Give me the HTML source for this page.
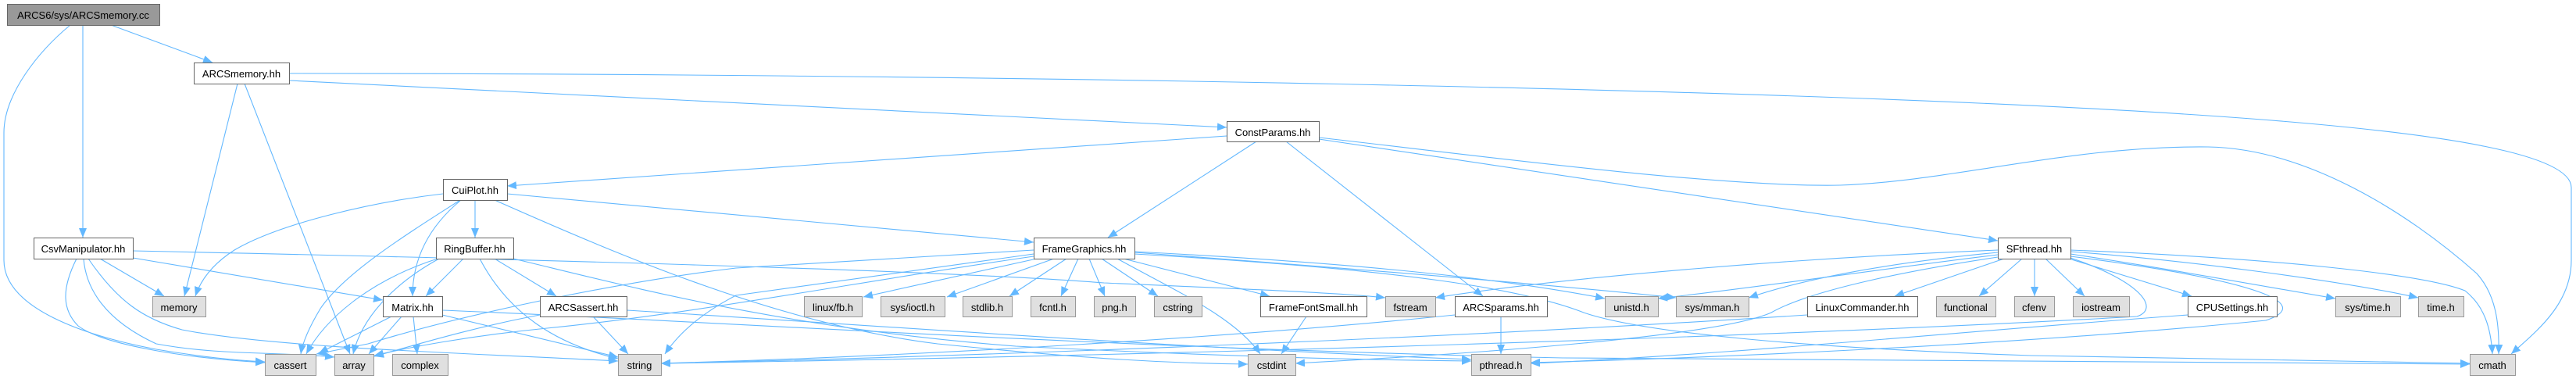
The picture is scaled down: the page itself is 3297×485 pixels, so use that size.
<!DOCTYPE html>
<html><head><meta charset="utf-8"><style>
html,body{margin:0;padding:0;background:#fff;}
svg{display:block;}
text{font-family:"Liberation Sans",Arial,sans-serif;font-size:13px;fill:#000;text-anchor:middle;}
.e{fill:none;stroke:#63b8ff;stroke-width:1.1;marker-end:url(#ah);}
.w{fill:#fff;stroke:#666;stroke-width:1;}
.g{fill:#e0e0e0;stroke:#999;stroke-width:1;}
.r{fill:#999;stroke:#666;stroke-width:1;}
</style></head><body>
<svg width="3297" height="485" viewBox="0 0 3297 485" xmlns="http://www.w3.org/2000/svg">
<defs><marker id="ah" markerUnits="userSpaceOnUse" viewBox="0 0 12 10" refX="12" refY="5" markerWidth="12" markerHeight="10" orient="auto"><path d="M0,0 L12,5 L0,10 z" fill="#63b8ff"/></marker></defs>
<rect width="3297" height="485" fill="#fff"/>
<g>
<path class="e" d="M142,32 L272,80"/>
<path class="e" d="M106,32 L106,304"/>
<path class="e" d="M90,32 C50,65 5,120 5,170 L5,333 C5,395 110,430 200,447 C260,457 300,461 339,463"/>
<path class="e" d="M370,103 L1570,163"/>
<path class="e" d="M370,94 C1200,94 2300,112 2826,148 C3150,170 3291,200 3291,240 L3291,333 C3291,390 3245,425 3214,453"/>
<path class="e" d="M304,107 L236,379"/>
<path class="e" d="M313,107 L448,453"/>
<path class="e" d="M1570,174 L649,238"/>
<path class="e" d="M1608,181 L1418,304"/>
<path class="e" d="M1646,181 L1898,379"/>
<path class="e" d="M1688,178 L2557,308"/>
<path class="e" d="M1688,176 C1900,200 2200,240 2355,237 C2500,232 2650,186 2826,188 C2950,190 3080,270 3170,350 C3195,378 3199,415 3198,453"/>
<path class="e" d="M567,248 C480,258 360,285 300,320 C275,336 258,355 250,379"/>
<path class="e" d="M589,256 C520,300 440,350 410,395 C395,420 387,440 385,453"/>
<path class="e" d="M590,256 C555,285 528,325 528,379"/>
<path class="e" d="M608,256 L608,304"/>
<path class="e" d="M649,248 L1323,310"/>
<path class="e" d="M633,256 C800,330 1000,415 1200,440 C1400,460 1500,465 1597,466"/>
<path class="e" d="M560,331 C470,360 415,410 392,453"/>
<path class="e" d="M562,331 C500,365 462,410 452,453"/>
<path class="e" d="M593,331 L545,379"/>
<path class="e" d="M614,331 C650,400 710,440 791,459"/>
<path class="e" d="M633,331 L712,379"/>
<path class="e" d="M657,331 C800,365 1000,420 1300,443 C1600,458 1780,461 1883,462"/>
<path class="e" d="M501,405 L408,452"/>
<path class="e" d="M514,405 L472,453"/>
<path class="e" d="M529,405 L534,453"/>
<path class="e" d="M566,403 L791,457"/>
<path class="e" d="M566,397 C900,410 1400,445 2000,458 C2500,465 2900,466 3161,466"/>
<path class="e" d="M759,405 L804,453"/>
<path class="e" d="M691,403 C600,420 520,445 479,456"/>
<path class="e" d="M802,397 C1100,415 1500,445 1883,460"/>
<path class="e" d="M1327,331 L1105,380"/>
<path class="e" d="M1349,331 L1212,380"/>
<path class="e" d="M1365,331 L1292,379"/>
<path class="e" d="M1380,331 L1358,379"/>
<path class="e" d="M1394,331 L1414,379"/>
<path class="e" d="M1410,331 L1482,379"/>
<path class="e" d="M1438,331 L1625,379"/>
<path class="e" d="M1430,331 C1500,370 1580,405 1613,453"/>
<path class="e" d="M1452,322 C1700,335 1900,352 2054,382"/>
<path class="e" d="M1452,323 C1750,345 2000,366 2145,381"/>
<path class="e" d="M1452,325 C1800,345 1950,370 2027,400 C2100,425 2300,445 2600,455 C2900,462 3050,464 3161,465"/>
<path class="e" d="M1323,325 L942,378 Q880,410 851,453"/>
<path class="e" d="M1323,320 L942,343 C800,360 600,400 471,440 L405,453"/>
<path class="e" d="M1323,328 C1100,360 900,400 700,420 C600,430 520,445 479,455"/>
<path class="e" d="M2565,331 L2425,379"/>
<path class="e" d="M2588,331 L2533,379"/>
<path class="e" d="M2604,331 L2604,379"/>
<path class="e" d="M2618,331 L2668,379"/>
<path class="e" d="M2648,331 L2805,379"/>
<path class="e" d="M2650,325 C2750,340 2850,358 2989,382"/>
<path class="e" d="M2650,322 C2800,333 3000,360 3095,381"/>
<path class="e" d="M2650,320 C2900,330 3100,350 3155,372 C3180,392 3188,420 3190,453"/>
<path class="e" d="M2557,320 C2300,330 2000,355 1837,381"/>
<path class="e" d="M2557,323 C2400,338 2300,360 2238,381"/>
<path class="e" d="M2557,326 C2400,345 2250,368 2122,382"/>
<path class="e" d="M2557,329 C2450,345 2320,370 2267,400 C2200,430 1900,452 1658,465"/>
<path class="e" d="M2650,330 C2740,360 2765,395 2735,405 C2300,430 1500,455 846,465"/>
<path class="e" d="M2313,403 C1900,430 1300,455 846,465"/>
<path class="e" d="M1862,403 C1600,430 1200,455 846,465"/>
<path class="e" d="M1921,405 L1921,453"/>
<path class="e" d="M2800,403 C2500,425 2200,455 1959,465"/>
<path class="e" d="M2650,328 C2900,360 2960,390 2900,410 C2600,440 2200,458 1959,464"/>
<path class="e" d="M170,321 C600,330 1200,345 1413,362 C1600,370 1720,375 1773,381"/>
<path class="e" d="M170,330 L490,384"/>
<path class="e" d="M128,331 L210,379"/>
<path class="e" d="M98,331 C80,367 78,395 100,417 C130,440 230,458 339,464"/>
<path class="e" d="M107,331 C110,370 135,410 200,440 C280,455 360,450 428,457"/>
<path class="e" d="M113,331 C150,385 183,408 233,422 C350,445 600,452 791,462"/>
<path class="e" d="M1672,405 L1640,453"/>
</g>
<g>
<rect class="r" x="9.5" y="5.5" width="195" height="27"/><text x="106.5" y="24">ARCS6/sys/ARCSmemory.cc</text>
<rect class="w" x="248.5" y="80.5" width="122" height="27"/><text x="309" y="99">ARCSmemory.hh</text>
<rect class="w" x="1570.5" y="155.5" width="118" height="26"/><text x="1629" y="174">ConstParams.hh</text>
<rect class="w" x="567.5" y="229.5" width="82" height="27"/><text x="608" y="248">CuiPlot.hh</text>
<rect class="w" x="43.5" y="304.5" width="127" height="27"/><text x="106.5" y="323">CsvManipulator.hh</text>
<rect class="w" x="558.5" y="304.5" width="99" height="27"/><text x="607.5" y="323">RingBuffer.hh</text>
<rect class="w" x="1323.5" y="304.5" width="129" height="27"/><text x="1387.5" y="323">FrameGraphics.hh</text>
<rect class="w" x="2557.5" y="304.5" width="93" height="27"/><text x="2603.5" y="323">SFthread.hh</text>

<rect class="g" x="195.5" y="379.5" width="68" height="26"/><text x="229" y="398">memory</text>
<rect class="w" x="490.5" y="379.5" width="76" height="26"/><text x="528" y="398">Matrix.hh</text>
<rect class="w" x="691.5" y="379.5" width="111" height="26"/><text x="746.5" y="398">ARCSassert.hh</text>
<rect class="g" x="1029.5" y="379.5" width="74" height="26"/><text x="1066" y="398">linux/fb.h</text>
<rect class="g" x="1127.5" y="379.5" width="82" height="26"/><text x="1168" y="398">sys/ioctl.h</text>
<rect class="g" x="1232.5" y="379.5" width="63" height="26"/><text x="1263.5" y="398">stdlib.h</text>
<rect class="g" x="1319.5" y="379.5" width="57" height="26"/><text x="1347.5" y="398">fcntl.h</text>
<rect class="g" x="1400.5" y="379.5" width="53" height="26"/><text x="1426.5" y="398">png.h</text>
<rect class="g" x="1477.5" y="379.5" width="61" height="26"/><text x="1507.5" y="398">cstring</text>
<rect class="w" x="1613.5" y="379.5" width="136" height="26"/><text x="1681" y="398">FrameFontSmall.hh</text>
<rect class="g" x="1773.5" y="379.5" width="64" height="26"/><text x="1805" y="398">fstream</text>
<rect class="w" x="1862.5" y="379.5" width="118" height="26"/><text x="1921" y="398">ARCSparams.hh</text>
<rect class="g" x="2054.5" y="379.5" width="68" height="26"/><text x="2088" y="398">unistd.h</text>
<rect class="g" x="2145.5" y="379.5" width="93" height="26"/><text x="2191.5" y="398">sys/mman.h</text>
<rect class="w" x="2313.5" y="379.5" width="141" height="26"/><text x="2383.5" y="398">LinuxCommander.hh</text>
<rect class="g" x="2478.5" y="379.5" width="76" height="26"/><text x="2516" y="398">functional</text>
<rect class="g" x="2578.5" y="379.5" width="51" height="26"/><text x="2603.5" y="398">cfenv</text>
<rect class="g" x="2653.5" y="379.5" width="72" height="26"/><text x="2689" y="398">iostream</text>
<rect class="w" x="2800.5" y="379.5" width="114" height="26"/><text x="2857" y="398">CPUSettings.hh</text>
<rect class="g" x="2989.5" y="379.5" width="83" height="26"/><text x="3030.5" y="398">sys/time.h</text>
<rect class="g" x="3095.5" y="379.5" width="58" height="26"/><text x="3124" y="398">time.h</text>

<rect class="g" x="339.5" y="453.5" width="65" height="27"/><text x="371.5" y="472">cassert</text>
<rect class="g" x="428.5" y="453.5" width="50" height="27"/><text x="453" y="472">array</text>
<rect class="g" x="502.5" y="453.5" width="71" height="27"/><text x="537.5" y="472">complex</text>
<rect class="g" x="791.5" y="453.5" width="55" height="27"/><text x="818.5" y="472">string</text>
<rect class="g" x="1597.5" y="453.5" width="61" height="27"/><text x="1627.5" y="472">cstdint</text>
<rect class="g" x="1883.5" y="453.5" width="76" height="27"/><text x="1921" y="472">pthread.h</text>
<rect class="g" x="3161.5" y="453.5" width="58" height="27"/><text x="3190" y="472">cmath</text>
</g>
</svg>
</body></html>
